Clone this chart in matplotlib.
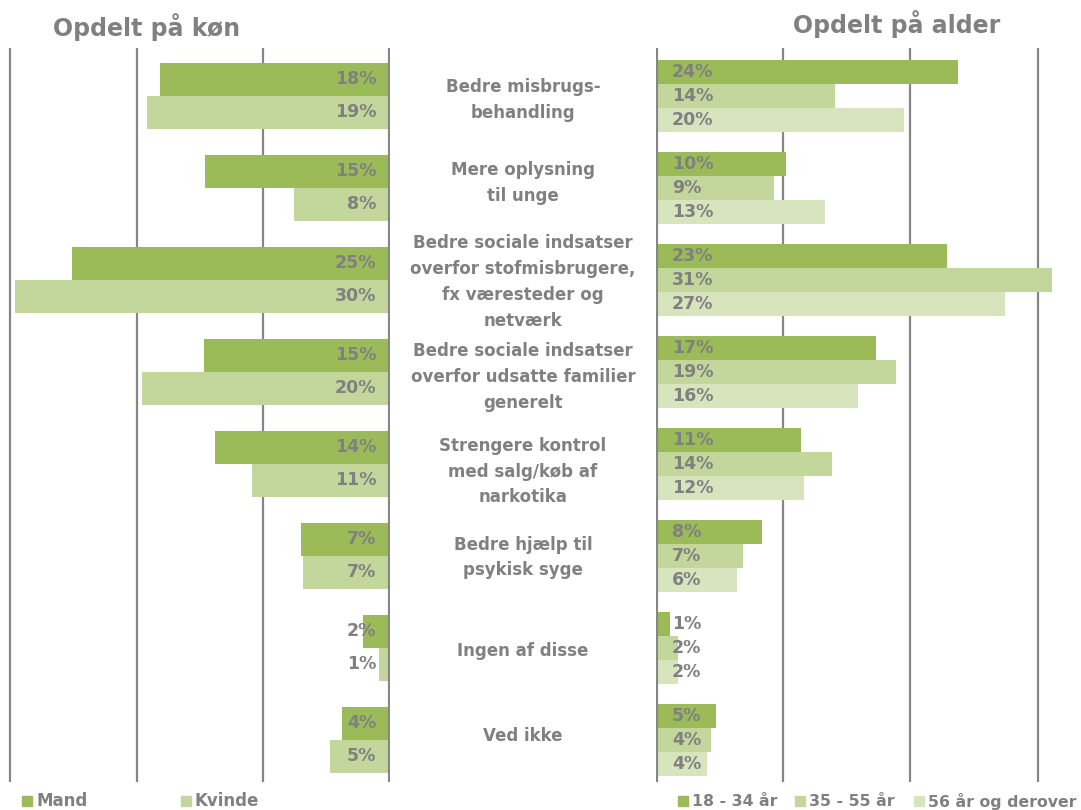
import matplotlib.pyplot as plt
from matplotlib.transforms import blended_transform_factory
from matplotlib.patches import Rectangle

# Kategorier (midterkolonnen)
kategorier = [
    "Bedre misbrugs-\nbehandling",
    "Mere oplysning\ntil unge",
    "Bedre sociale indsatser\noverfor stofmisbrugere,\nfx væresteder og\nnetværk",
    "Bedre sociale indsatser\noverfor udsatte familier\ngenerelt",
    "Strengere kontrol\nmed salg/køb af\nnarkotika",
    "Bedre hjælp til\npsykisk syge",
    "Ingen af disse",
    "Ved ikke",
]

# Opdelt på køn (procent)
mand = [18.2, 14.6, 25.1, 14.7, 13.8, 7.0, 2.1, 3.8]
kvinde = [19.2, 7.6, 29.6, 19.6, 10.9, 6.9, 0.9, 4.7]

# Opdelt på alder (procent)
alder_18_34 = [23.7, 10.2, 22.9, 17.3, 11.4, 8.3, 1.1, 4.7]
alder_35_55 = [14.1, 9.3, 31.1, 18.9, 13.8, 6.8, 1.7, 4.3]
alder_56 = [19.5, 13.3, 27.4, 15.9, 11.6, 6.4, 1.7, 4.0]

gruppe_navne = ["Mand", "Kvinde"]
alder_navne = ["18 - 34 år", "35 - 55 år", "56 år og derover"]

GROEN1 = "#9BBB59"
GROEN2 = "#C3D69B"
GROEN3 = "#D7E4BD"
GRAA = "#808080"
LINJE = "#868686"

W, H = 1081, 810
fig = plt.figure(figsize=(W / 100, H / 100), dpi=100)
plt.rcParams['font.family'] = ['DejaVu Sans']


def px_axes(x0, y0, x1, y1):
    # akse ud fra pixelkoordinater (top-venstre origo)
    return fig.add_axes([x0 / W, 1 - y1 / H, (x1 - x0) / W, (y1 - y0) / H])


y_lim = (7.46, -0.52)
n = len(kategorier)
pos = list(range(n))

# --- venstre panel: køn ---
axL = px_axes(0, 48, 390, 782)
axL.set_xlim(30.8, 0)
axL.set_ylim(*y_lim)
h2 = 0.36
axL.barh([p - h2 / 2 for p in pos], mand, height=h2, color=GROEN1, zorder=2)
axL.barh([p + h2 / 2 for p in pos], kvinde, height=h2, color=GROEN2, zorder=2)
for i in range(n):
    axL.text(1.1, i - h2 / 2, f"{mand[i]:.0f}%", ha="right", va="center",
             color=GRAA, fontsize=12.5, fontweight="bold", zorder=3)
    axL.text(1.1, i + h2 / 2, f"{kvinde[i]:.0f}%", ha="right", va="center",
             color=GRAA, fontsize=12.5, fontweight="bold", zorder=3)

# --- højre panel: alder ---
axR = px_axes(656, 48, W, 782)
axR.set_xlim(0, 33.4)
axR.set_ylim(*y_lim)
h3 = 0.26
for k, (vals, farve) in enumerate(zip([alder_18_34, alder_35_55, alder_56],
                                      [GROEN1, GROEN2, GROEN3])):
    off = (k - 1) * h3
    axR.barh([p + off for p in pos], vals, height=h3, color=farve, zorder=2)
    for i in range(n):
        axR.text(1.25, i + off, f"{vals[i]:.0f}%", ha="left", va="center",
                 color=GRAA, fontsize=12.5, fontweight="bold", zorder=3)

for ax in (axL, axR):
    for g in (10, 20, 30):
        ax.axvline(g, color=LINJE, lw=1.6, zorder=1)
    ax.axvline(0, color=LINJE, lw=3, zorder=4)
    ax.set_xticks([])
    ax.set_yticks([])
    for s in ax.spines.values():
        s.set_visible(False)
    ax.patch.set_alpha(0)

# kategoritekster i midten (lidt forskudt lodret pr. kategori)
tekst_forskyd = [0.046, -0.052, 0.024, 0.058, 0.085, 0.02, 0.036, -0.04]
trans = blended_transform_factory(fig.transFigure, axL.transData)
for i, navn in enumerate(kategorier):
    fig.text(523 / W, i + tekst_forskyd[i], navn, transform=trans,
             ha="center", va="center", color=GRAA, fontsize=12,
             fontweight="bold", linespacing=1.55)

# overskrifter
fig.text(147 / W, 1 - 27 / H, "Opdelt på køn", ha="center", va="center",
         color=GRAA, fontsize=17, fontweight="bold")
fig.text(897 / W, 1 - 24 / H, "Opdelt på alder", ha="center", va="center",
         color=GRAA, fontsize=17, fontweight="bold")


# forklaringer
def legend_item(x, farve, tekst, fs=12):
    fig.patches.append(Rectangle((x / W, 1 - 806 / H), 10 / W, 10 / H,
                                 transform=fig.transFigure, color=farve))
    fig.text((x + 14) / W, 1 - 801 / H, tekst, ha="left", va="center",
             color=GRAA, fontsize=fs, fontweight="bold")


legend_item(22, GROEN1, gruppe_navne[0])
legend_item(181, GROEN2, gruppe_navne[1])
legend_item(678, GROEN1, alder_navne[0], 11.3)
legend_item(795, GROEN2, alder_navne[1], 11.3)
legend_item(914, GROEN3, alder_navne[2], 11.3)

fig.savefig("out.png", dpi=100)
